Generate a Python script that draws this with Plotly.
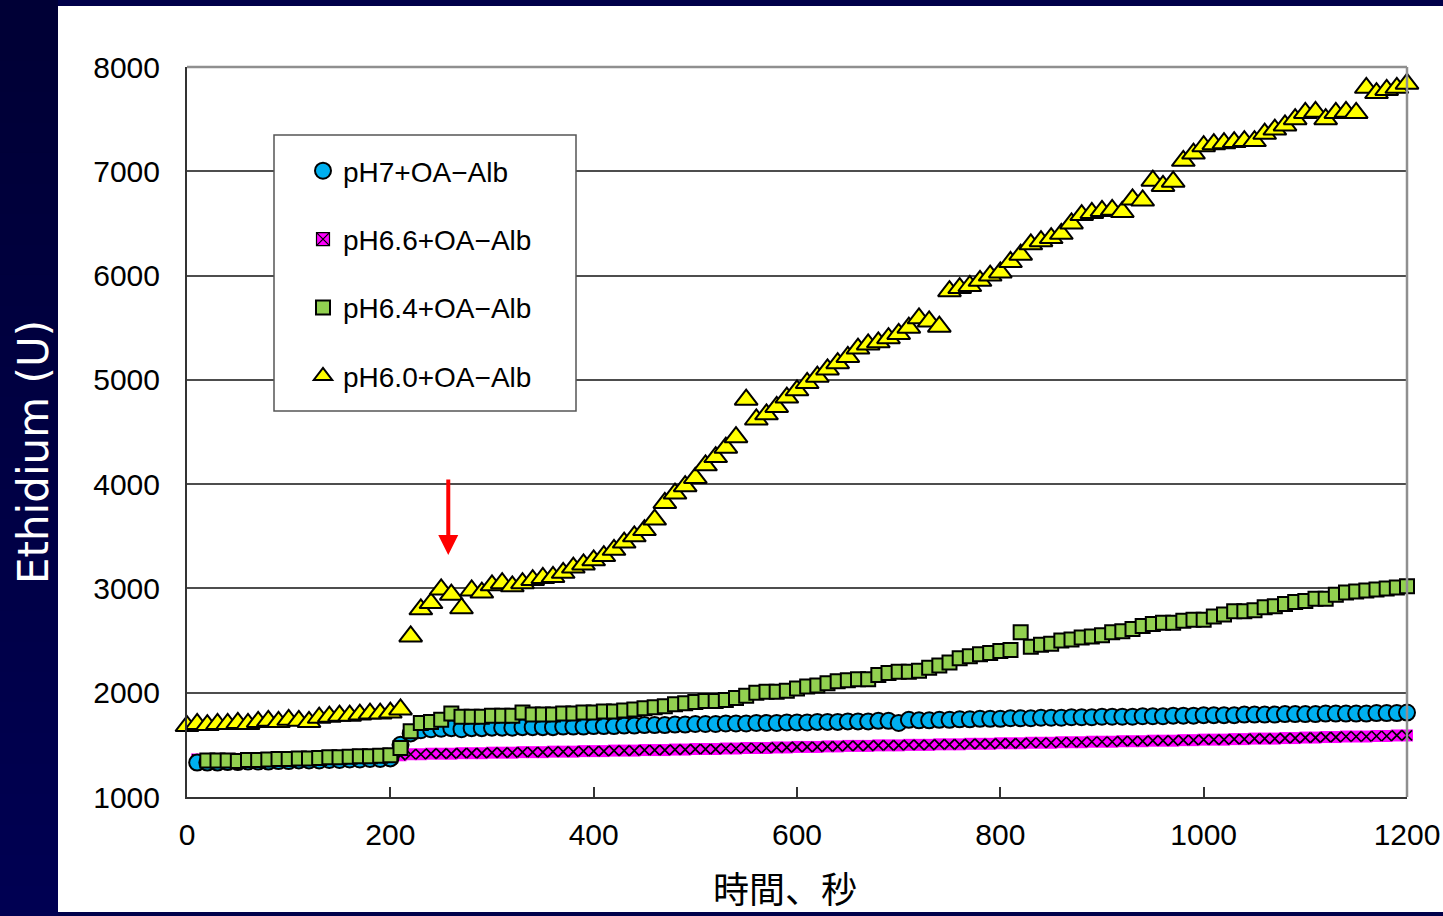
import plotly.graph_objects as go

# ---------------- data ----------------
t_ph60 = list(range(0, 1210, 10))       # 121 samples
t_ph7 = list(range(10, 1210, 10))       # 120 samples
t_ph66 = list(range(10, 1210, 10))      # 120 samples
t_ph64 = list(range(20, 1210, 10))      # 119 samples

ph60 = [1680, 1700, 1690, 1700, 1700, 1710, 1700, 1720, 1730, 1720, 1740,
        1730, 1720, 1760, 1770, 1780, 1780, 1790, 1800, 1800, 1810, 1840,
        2540, 2800, 2860, 2990, 2940, 2810, 2980, 2960, 3030,
        3050, 3020, 3050, 3080, 3100, 3110, 3150, 3200, 3230, 3270,
        3310, 3370, 3440, 3500, 3560, 3660, 3820, 3910, 3980, 4060,
        4180, 4260, 4350, 4450, 4810, 4620, 4670, 4740, 4830, 4900,
        4970, 5030, 5100, 5160, 5220, 5300, 5340, 5360, 5400, 5440,
        5500, 5590, 5560, 5510, 5850, 5880, 5900, 5950, 6000, 6030,
        6130, 6200, 6300, 6330, 6360, 6400, 6500, 6580, 6600, 6620,
        6630, 6610, 6730, 6720, 6910, 6860, 6900, 7100, 7170, 7240,
        7260, 7270, 7280, 7290, 7290, 7360, 7400, 7440, 7500, 7560,
        7570, 7500, 7560, 7570, 7560, 7800, 7750, 7780, 7800, 7840]

ph7 = [1330, 1330, 1330, 1335, 1335, 1340, 1340, 1340, 1345, 1345,
       1350, 1350, 1350, 1355, 1355, 1360, 1360, 1365, 1365, 1370,
       1500, 1610, 1640, 1650, 1655, 1660, 1650, 1660, 1660, 1665,
       1665, 1665, 1670, 1670, 1670, 1670, 1675, 1675, 1675, 1680,
       1680, 1680, 1685, 1685, 1690, 1690, 1690, 1695, 1695, 1700,
       1700, 1700, 1705, 1705, 1705, 1710, 1710, 1710, 1715, 1715,
       1715, 1720, 1720, 1720, 1725, 1725, 1725, 1730, 1730, 1710,
       1740, 1735, 1735, 1740, 1740, 1745, 1745, 1750, 1750, 1750,
       1755, 1755, 1755, 1760, 1760, 1760, 1765, 1765, 1765, 1770,
       1770, 1770, 1770, 1775, 1775, 1775, 1780, 1780, 1780, 1785,
       1785, 1785, 1785, 1790, 1790, 1790, 1790, 1795, 1795, 1795,
       1795, 1800, 1800, 1800, 1800, 1800, 1805, 1805, 1805, 1810]

ph66 = [1360, 1360, 1365, 1365, 1365, 1370, 1370, 1370, 1375, 1375,
        1375, 1380, 1380, 1380, 1385, 1385, 1385, 1390, 1390, 1390,
        1400, 1410, 1410, 1415, 1415, 1415, 1420, 1420, 1420, 1425,
        1425, 1425, 1430, 1430, 1430, 1435, 1435, 1435, 1440, 1440,
        1440, 1445, 1445, 1445, 1450, 1450, 1450, 1455, 1455, 1460,
        1460, 1460, 1465, 1465, 1470, 1470, 1470, 1475, 1475, 1480,
        1480, 1480, 1485, 1485, 1490, 1490, 1490, 1495, 1495, 1495,
        1500, 1500, 1500, 1505, 1505, 1505, 1510, 1510, 1510, 1515,
        1515, 1515, 1520, 1520, 1520, 1525, 1525, 1525, 1530, 1530,
        1530, 1535, 1535, 1535, 1540, 1540, 1540, 1545, 1545, 1550,
        1550, 1550, 1555, 1555, 1560, 1560, 1560, 1565, 1565, 1570,
        1570, 1575, 1575, 1580, 1580, 1580, 1585, 1585, 1590, 1590]

ph64 = [1350, 1350, 1350, 1345, 1355, 1355, 1360, 1365, 1365, 1370,
        1370, 1375, 1380, 1380, 1385, 1390, 1390, 1395, 1400,
        1470, 1630, 1710, 1720, 1740, 1800, 1770, 1770, 1770, 1780,
        1780, 1780, 1810, 1790, 1790, 1790, 1800, 1800, 1810, 1810,
        1820, 1820, 1830, 1840, 1850, 1860, 1870, 1890, 1900, 1910,
        1920, 1920, 1930, 1950, 1970, 2000, 2010, 2010, 2020, 2040,
        2060, 2070, 2090, 2110, 2120, 2130, 2130, 2170, 2190, 2200,
        2200, 2210, 2240, 2260, 2290, 2330, 2350, 2370, 2380, 2400,
        2410, 2580, 2440, 2460, 2470, 2500, 2510, 2530, 2540, 2550,
        2580, 2590, 2610, 2640, 2660, 2670, 2670, 2690, 2700, 2700,
        2730, 2750, 2780, 2780, 2790, 2820, 2830, 2850, 2870, 2880,
        2900, 2900, 2940, 2960, 2970, 2980, 2990, 3000, 3010, 3020]

names = ["pH7+OA\u2212Alb", "pH6.6+OA\u2212Alb", "pH6.4+OA\u2212Alb", "pH6.0+OA\u2212Alb"]
x_ticks = [0, 200, 400, 600, 800, 1000, 1200]
y_ticks = [1000, 2000, 3000, 4000, 5000, 6000, 7000, 8000]
arrow_t = 257
arrow_y = [4060, 3320]
x_title = "時間、秒"
y_title = "Ethidium (U)"

# ---------------- layout geometry (pixels) ----------------
W, H = 1443, 916
L, R, T, B = 187, 36, 67, 119
PW, PH = W - L - R, H - T - B


def px(xp):
    return (xp - L) / PW


def py(yp):
    return (H - B - yp) / PH


fig = go.Figure()

# pH6.6 : magenta squares with black X
fig.add_trace(go.Scatter(x=t_ph66, y=ph66, mode="markers", showlegend=False,
                         cliponaxis=False, hoverinfo="skip",
                         marker=dict(symbol="square", size=12, color="#ff00ff",
                                     line=dict(width=0))))
fig.add_trace(go.Scatter(x=t_ph66, y=ph66, mode="markers", showlegend=False,
                         cliponaxis=False, name=names[1],
                         marker=dict(symbol="x-thin-open", size=10, color="#000000",
                                     line=dict(width=1.7, color="#000000"))))
fig.add_trace(go.Scatter(x=[None], y=[None], mode="markers", name=names[1],
                         legendrank=2, legendgroup="b",
                         marker=dict(symbol="square-x", size=13, color="#ff00ff",
                                     line=dict(width=1.2, color="#000000"))))
# pH7
fig.add_trace(go.Scatter(x=t_ph7, y=ph7, mode="markers", name=names[0],
                         legendrank=1, legendgroup="a", cliponaxis=False,
                         marker=dict(symbol="circle", size=16, color="#00b0f0",
                                     line=dict(width=2, color="#000000"))))
# pH6.4
fig.add_trace(go.Scatter(x=t_ph64, y=ph64, mode="markers", name=names[2],
                         legendrank=3, legendgroup="c", cliponaxis=False,
                         marker=dict(symbol="square", size=14, color="#92d050",
                                     line=dict(width=2, color="#000000"))))
# pH6.0
fig.add_trace(go.Scatter(x=t_ph60, y=ph60, mode="markers", name=names[3],
                         legendrank=4, legendgroup="d", cliponaxis=False,
                         marker=dict(symbol="triangle-up", size=20, color="#ffff00",
                                     line=dict(width=2, color="#000000"))))

shapes = []
# navy gradient background band on the left
N = 30
for i in range(N):
    y0p = i * H / N
    y1p = (i + 1) * H / N + 1
    c = int(0x36 + (0x52 - 0x36) * i / (N - 1))
    shapes.append(dict(type="rect", xref="paper", yref="paper", layer="below",
                       x0=px(0), x1=px(58), y0=py(y1p), y1=py(y0p),
                       fillcolor="rgb(0,0,%d)" % c, line=dict(width=0)))
# white panel
shapes.append(dict(type="rect", xref="paper", yref="paper", layer="below",
                   x0=px(58), x1=px(W + 2), y0=py(912), y1=py(6),
                   fillcolor="#ffffff", line=dict(width=0)))
# top and right frame (gray)
shapes.append(dict(type="line", xref="paper", yref="paper", layer="above",
                   x0=0, x1=1, y0=1, y1=1, line=dict(color="#8f8f8f", width=2.5)))
shapes.append(dict(type="line", xref="paper", yref="paper", layer="above",
                   x0=1, x1=1, y0=0, y1=1, line=dict(color="#8f8f8f", width=2.5)))
# legend box
shapes.append(dict(type="rect", xref="paper", yref="paper", layer="above",
                   x0=px(274), x1=px(576), y0=py(411), y1=py(135),
                   fillcolor="#ffffff", line=dict(color="#555555", width=1.5)))

fig.update_layout(
    width=W, height=H,
    margin=dict(l=L, r=R, t=T, b=B, pad=0, autoexpand=False),
    paper_bgcolor="#00004a",
    plot_bgcolor="#ffffff",
    shapes=shapes,
    font=dict(family="Liberation Sans, Arial, sans-serif", color="#000000"),
    legend=dict(x=px(303), y=py(146), xanchor="left", yanchor="top",
                bgcolor="rgba(0,0,0,0)", borderwidth=0,
                font=dict(family="Liberation Sans, Arial, sans-serif", size=28, color="#000000"),
                tracegroupgap=29, itemsizing="trace", traceorder="grouped"),
    xaxis=dict(range=[0, 1200], tickvals=x_ticks, ticktext=[str(v) for v in x_ticks],
               showgrid=False, zeroline=False, automargin=False,
               showline=True, linecolor="#333333", linewidth=2,
               ticks="inside", ticklen=10, tickwidth=1.5, tickcolor="#333333",
               tickfont=dict(size=30, family="Liberation Sans, Arial, sans-serif"),
               ticklabelstandoff=10),
    yaxis=dict(range=[1000, 8000], tickvals=y_ticks, ticktext=[str(v) for v in y_ticks],
               showgrid=True, gridcolor="#4d4d4d", gridwidth=1.5, zeroline=False,
               showline=True, linecolor="#333333", linewidth=2, automargin=False,
               ticks="", tickfont=dict(size=30, family="Liberation Sans, Arial, sans-serif"),
               ticklabelstandoff=19),
    annotations=[
        dict(x=arrow_t, y=arrow_y[1], ax=arrow_t, ay=arrow_y[0], xref="x", yref="y",
             axref="x", ayref="y", showarrow=True, arrowhead=2, arrowsize=1,
             arrowwidth=4, arrowcolor="#ff0000", text=""),
        dict(x=px(785), y=py(887), xref="paper", yref="paper", text=x_title,
             showarrow=False, xanchor="center", yanchor="middle",
             font=dict(family="Noto Sans CJK JP", size=36, color="#000000")),
        dict(x=px(33), y=py(452), xref="paper", yref="paper", text=y_title,
             showarrow=False, textangle=-90, xanchor="center", yanchor="middle",
             font=dict(family="DejaVu Sans", size=42, color="#ffffff")),
    ],
)

fig.write_html("out.html")
